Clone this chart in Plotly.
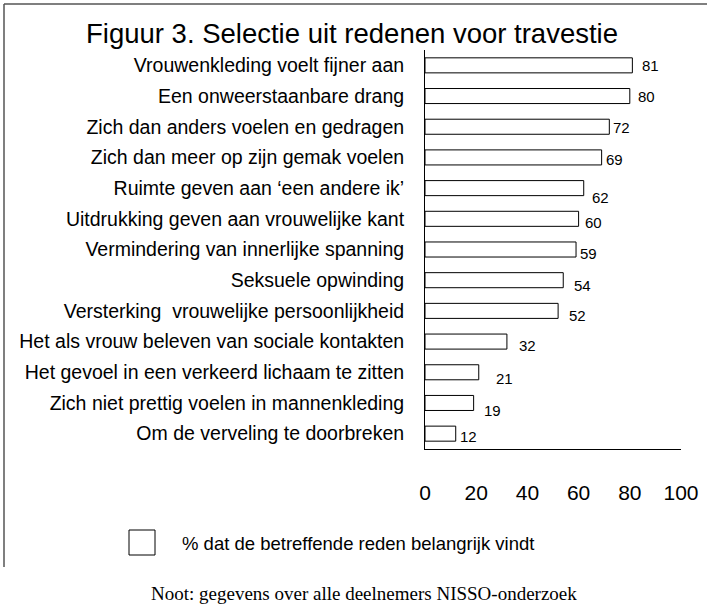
import plotly.graph_objects as go

# ---- data ----
categories = [
    "Vrouwenkleding voelt fijner aan",
    "Een onweerstaanbare drang",
    "Zich dan anders voelen en gedragen",
    "Zich dan meer op zijn gemak voelen",
    "Ruimte geven aan \u2018een andere ik\u2019",
    "Uitdrukking geven aan vrouwelijke kant",
    "Vermindering van innerlijke spanning",
    "Seksuele opwinding",
    "Versterking  vrouwelijke persoonlijkheid",
    "Het als vrouw beleven van sociale kontakten",
    "Het gevoel in een verkeerd lichaam te zitten",
    "Zich niet prettig voelen in mannenkleding",
    "Om de verveling te doorbreken",
]
values = [81, 80, 72, 69, 62, 60, 59, 54, 52, 32, 21, 19, 12]
x_ticks = [0, 20, 40, 60, 80, 100]
title_text = "Figuur 3. Selectie uit redenen voor travestie"
legend_text = "% dat de betreffende reden belangrijk vindt"
note_text = "Noot: gegevens over alle deelnemers NISSO-onderzoek"

# ---- style: value-label nudges (px right, px down) ----
label_nudges = [(8, 0), (6, 0), (2, 1), (2, 2), (6, 9), (4, 4), (2, 4),
                (9, 5), (9, 5), (10, 4), (15, 6), (8, 8), (2, 3)]

W, H = 707, 610
L, R, T, B = 425, 26, 50, 161
pw, ph = W - L - R, H - T - B


def px(x):
    return (x - L) / pw


def py(y):
    return (H - B - y) / ph


SANS = "Liberation Sans, Arial, Helvetica, sans-serif"
SERIF = "Liberation Serif, Times New Roman, serif"

fig = go.Figure()
fig.add_trace(go.Bar(
    x=values, y=categories, orientation="h",
    marker=dict(color="white", line=dict(color="black", width=1)),
    width=0.49, showlegend=False, hoverinfo="x+y",
))

annotations = []
for cat, v, (dx, dy) in zip(categories, values, label_nudges):
    annotations.append(dict(
        x=v, y=cat, xref="x", yref="y", text=str(v), showarrow=False,
        xanchor="left", yanchor="middle", xshift=dx, yshift=-dy,
        font=dict(family=SANS, size=15, color="black"),
    ))

# legend text and note
annotations.append(dict(
    x=px(180), y=py(543), xref="paper", yref="paper", text=legend_text,
    showarrow=False, xanchor="left", yanchor="middle",
    font=dict(family=SANS, size=18.5, color="black"),
))
annotations.append(dict(
    x=px(364), y=py(593), xref="paper", yref="paper", text=note_text,
    showarrow=False, xanchor="center", yanchor="middle",
    font=dict(family=SERIF, size=19, color="black"),
))

shapes = [
    # legend swatch
    dict(type="rect", xref="paper", yref="paper",
         x0=px(129), x1=px(155), y0=py(555), y1=py(530),
         line=dict(color="black", width=1), fillcolor="white"),
    # scanned frame: top and left edges
    dict(type="line", xref="paper", yref="paper",
         x0=px(4), x1=px(707), y0=py(4), y1=py(4),
         line=dict(color="#555555", width=1.5)),
    dict(type="line", xref="paper", yref="paper",
         x0=px(4), x1=px(4), y0=py(4), y1=py(567),
         line=dict(color="#555555", width=1.5)),
]

fig.update_layout(
    width=W, height=H,
    margin=dict(l=L, r=R, t=T, b=B, autoexpand=False),
    paper_bgcolor="white", plot_bgcolor="white",
    title=dict(text=title_text, x=352 / W, xref="container", xanchor="center",
               y=1 - 33 / H, yref="container", yanchor="middle",
               font=dict(family=SANS, size=27.5, color="black")),
    xaxis=dict(range=[0, 100], tickvals=x_ticks, ticktext=[str(t) for t in x_ticks],
               showgrid=False, zeroline=False, showline=True, linecolor="black",
               linewidth=1, ticks="", ticklabelstandoff=25,
               tickfont=dict(family=SANS, size=21, color="black"), fixedrange=True),
    yaxis=dict(categoryorder="array", categoryarray=categories,
               autorange="reversed", showgrid=False, zeroline=False,
               showline=True, linecolor="black", linewidth=1, ticks="",
               ticklabelstandoff=16,
               tickfont=dict(family=SANS, size=19.5, color="black"), fixedrange=True),
    annotations=annotations, shapes=shapes,
    bargap=0.5,
)

fig.write_html(
    "out.html",
    config={"displayModeBar": False},
    post_script="document.body.style.margin='0px';document.body.style.overflow='hidden';",
)
